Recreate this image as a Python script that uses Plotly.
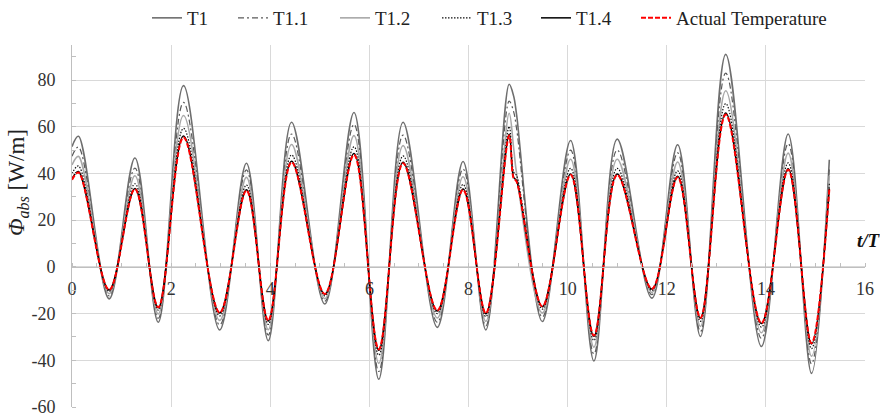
import plotly.graph_objects as go

# Sample instants (t/T): turning points of the absorbed heat flux
t_over_T = [0.00, 0.13, 0.75, 1.27, 1.74, 2.25, 2.98, 3.52, 3.96, 4.43,
            5.10, 5.69, 6.19, 6.68, 7.37, 7.89, 8.35, 8.82, 8.91, 8.97,
            9.49, 10.06, 10.53, 11.00, 11.70, 12.22, 12.68, 13.19, 13.91,
            14.45, 14.92, 15.28]

phi_T1 = [51.5, 55.9, -13.7, 46.6, -23.7, 77.6, -27.0, 44.4, -31.6, 61.9,
          -15.9, 66.1, -48.1, 61.9, -25.9, 45.1, -27.0, 78.2, 73.2, 65.2,
          -23.4, 54.1, -40.3, 54.7, -13.4, 52.3, -29.8, 91.0, -34.1,
          56.9, -45.6, 45.9]

phi_T1_1 = [47.4, 51.3, -12.4, 42.3, -22.0, 70.4, -24.9, 41.5, -29.2, 56.9,
            -14.7, 61.0, -44.8, 56.4, -23.7, 41.9, -25.3, 71.0, 66.5, 59.2,
            -21.5, 50.0, -37.3, 50.0, -11.9, 48.8, -27.7, 83.0, -30.6,
            52.8, -41.5, 42.3]

phi_T1_2 = [43.6, 47.3, -11.5, 39.0, -20.2, 64.8, -22.9, 38.3, -26.9, 52.4,
            -13.6, 56.2, -41.3, 51.9, -21.9, 38.6, -23.3, 65.8, 51.0, 40.0,
            -19.8, 46.1, -34.4, 46.1, -11.0, 44.9, -25.5, 75.4, -28.2,
            48.7, -38.3, 39.0]

phi_T1_3 = [39.9, 43.2, -10.5, 35.6, -18.5, 59.3, -21.0, 35.0, -24.6, 47.9,
            -12.4, 51.4, -37.8, 47.5, -20.0, 35.3, -21.3, 60.1, 40.7, 39.1,
            -18.1, 42.2, -31.5, 42.2, -10.1, 41.1, -23.3, 69.9, -25.8,
            44.5, -35.0, 35.6]

phi_T1_4 = [37.7, 40.8, -9.9, 33.6, -17.5, 56.0, -19.8, 33.0, -23.2, 45.2,
            -11.7, 48.5, -35.7, 44.8, -18.9, 33.3, -20.1, 56.8, 38.4, 36.9,
            -17.1, 39.8, -29.7, 39.8, -9.5, 38.8, -22.0, 65.9, -24.3,
            42.0, -33.0, 33.6]

phi_actual = [37.3, 40.4, -9.8, 33.3, -17.3, 55.4, -19.6, 32.7, -23.0, 44.8,
              -11.6, 48.0, -35.3, 44.4, -18.7, 33.0, -19.9, 56.2, 38.0, 36.5,
              -16.9, 39.4, -29.4, 39.4, -9.4, 38.4, -21.8, 65.2, -24.1,
              41.6, -32.7, 33.3]

series_names = ["T1", "T1.1", "T1.2", "T1.3", "T1.4", "Actual Temperature"]
series_values = [phi_T1, phi_T1_1, phi_T1_2, phi_T1_3, phi_T1_4, phi_actual]

x_ticks = [0, 2, 4, 6, 8, 10, 12, 14, 16]
y_ticks = [-60, -40, -20, 0, 20, 40, 60, 80]

line_styles = [
    dict(color="#6e6e6e", width=1.6),
    dict(color="#5a5a5a", width=1.2, dash="6px,3px,2px,3px"),
    dict(color="#a8a8a8", width=1.6),
    dict(color="#111111", width=1.2, dash="1.5px,1.5px"),
    dict(color="#000000", width=1.5),
    dict(color="#ff0000", width=2, dash="5px,2px"),
]

SERIF = "Liberation Serif"

fig = go.Figure()
legend_ids = ["legend", "legend2", "legend3", "legend4", "legend5", "legend6"]
for name, vals, style, lg in zip(series_names, series_values, line_styles, legend_ids):
    fig.add_trace(go.Scatter(
        x=t_over_T, y=vals, name=name, mode="lines",
        line=dict(shape="spline", smoothing=1.0, **style),
        legend=lg,
    ))

# plot area: 72..865 px horizontally, 45..407 px vertically
y_min, y_max = -60, 95
x_axis_pos = (0 - y_min) / (y_max - y_min)

layout_legends = {}
text_starts = [187, 273, 375, 477, 576, 676]
for lg, tx in zip(legend_ids, text_starts):
    layout_legends[lg] = dict(
        orientation="h", x=(tx - 40 - 72) / 793, xanchor="left",
        y=(407 - 18) / 362, yanchor="middle",
        bgcolor="rgba(0,0,0,0)", borderwidth=0,
        font=dict(family=SERIF, size=19, color="#222222"),
        itemwidth=30, tracegroupgap=0,
    )

fig.update_layout(
    width=880, height=416,
    margin=dict(l=72, r=15, t=45, b=9, autoexpand=False),
    paper_bgcolor="white", plot_bgcolor="white",
    showlegend=True,
    **layout_legends,
    xaxis=dict(
        range=[0, 16], tickvals=x_ticks, ticktext=[str(v) for v in x_ticks],
        showgrid=True, gridcolor="#d9d9d9", gridwidth=1,
        zeroline=False, showline=True, linecolor="#bfbfbf", linewidth=1,
        anchor="free", position=x_axis_pos,
        ticks="", ticklabelstandoff=6,
        minor=dict(dtick=0.5, tick0=0, ticks="inside", ticklen=4,
                   tickcolor="#bfbfbf", showgrid=False),
        tickfont=dict(family=SERIF, size=18, color="#333333"),
    ),
    yaxis=dict(
        range=[y_min, y_max], tickvals=y_ticks, ticktext=[str(v) for v in y_ticks],
        showgrid=True, gridcolor="#d9d9d9", gridwidth=1,
        zeroline=False, showline=True, linecolor="#bfbfbf", linewidth=1,
        ticks="", ticklabelstandoff=12, ticklabeloverflow="allow",
        minor=dict(dtick=10, tick0=0, ticks="inside", ticklen=4,
                   tickcolor="#bfbfbf", showgrid=False),
        tickfont=dict(family=SERIF, size=18, color="#333333"),
    ),
    annotations=[
        dict(text="<i>Φ<sub>abs</sub></i> [W/m]", textangle=-90,
             xref="paper", yref="paper", x=(18 - 72) / 793, y=(407 - 182) / 362,
             xanchor="center", yanchor="middle", showarrow=False,
             font=dict(family=SERIF, size=23, color="#222222")),
        dict(text="<b><i>t/T</i></b>",
             xref="paper", yref="paper", x=(855 - 72) / 793, y=(407 - 240) / 362,
             xanchor="left", yanchor="middle", showarrow=False,
             font=dict(family=SERIF, size=19, color="#111111")),
    ],
)

fig.write_html("out.html")
